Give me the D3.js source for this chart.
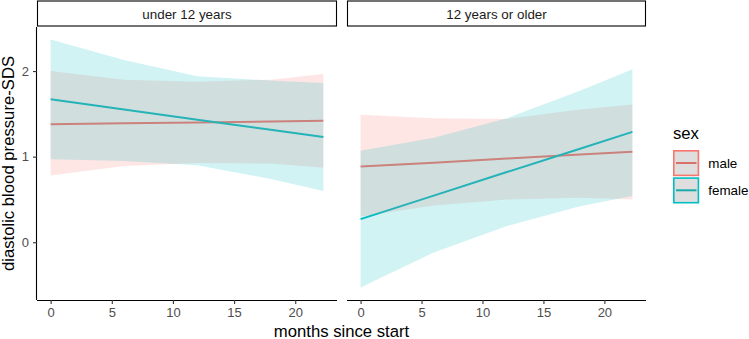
<!DOCTYPE html>
<html>
<head>
<meta charset="utf-8">
<script src="https://cdn.jsdelivr.net/npm/d3@7"></script>
<style>
  html, body { margin: 0; padding: 0; background: #fff; }
  svg { display: block; font-family: "Liberation Sans", Arial, Helvetica, sans-serif; }
</style>
</head>
<body>
<svg id="chart" width="749" height="339"></svg>
<script>
// ---- data ----
const groups = ["under 12 years", "12 years or older"];
const sexes = ["male", "female"];
const months = [0, 6, 12, 18, 22.3];

// fitted lines
const fitMaleYoung   = [1.38, 1.39, 1.40, 1.41, 1.42];
const fitFemaleYoung = [1.67, 1.55, 1.43, 1.315, 1.23];
const fitMaleOld     = [0.885, 0.93, 0.977, 1.024, 1.058];
const fitFemaleOld   = [0.27, 0.545, 0.82, 1.093, 1.29];

// confidence bands
const upMaleYoung   = [2.00, 1.90, 1.875, 1.90, 1.965];
const loMaleYoung   = [0.78, 0.89, 0.925, 0.92, 0.87];
const upFemaleYoung = [2.37, 2.13, 1.94, 1.89, 1.86];
const loFemaleYoung = [0.97, 0.95, 0.90, 0.74, 0.60];
const upMaleOld     = [1.49, 1.45, 1.44, 1.55, 1.61];
const loMaleOld     = [0.30, 0.43, 0.50, 0.52, 0.50];
const upFemaleOld   = [1.07, 1.22, 1.45, 1.77, 2.02];
const loFemaleOld   = [-0.53, -0.12, 0.19, 0.42, 0.54];

const xTicks = [0, 5, 10, 15, 20];
const yTicks = [0, 1, 2];
const colors = {male: "#F8766D", female: "#00BFC4"};

const series = {
  "under 12 years": {
    male:   {fit: fitMaleYoung,   up: upMaleYoung,   lo: loMaleYoung},
    female: {fit: fitFemaleYoung, up: upFemaleYoung, lo: loFemaleYoung}
  },
  "12 years or older": {
    male:   {fit: fitMaleOld,   up: upMaleOld,   lo: loMaleOld},
    female: {fit: fitFemaleOld, up: upFemaleOld, lo: loFemaleOld}
  }
};

// ---- layout ----
const svg = d3.select("#chart");
const panelTop = 27, panelBottom = 300;
const panels = [
  {name: groups[0], x0: 37, x1: 337},
  {name: groups[1], x0: 347, x1: 646}
];

// scales with 5% expansion
const xExt = d3.extent(months);
const xPad = (xExt[1] - xExt[0]) * 0.05;
const allY = [].concat(upMaleYoung, loMaleYoung, upFemaleYoung, loFemaleYoung,
                       upMaleOld, loMaleOld, upFemaleOld, loFemaleOld);
const yExt = d3.extent(allY);
const yPad = (yExt[1] - yExt[0]) * 0.05;
const y = d3.scaleLinear().domain([yExt[0] - yPad, yExt[1] + yPad]).range([panelBottom, panelTop]);

panels.forEach((p, pi) => {
  const x = d3.scaleLinear().domain([xExt[0] - xPad, xExt[1] + xPad]).range([p.x0, p.x1]);
  const g = svg.append("g");

  // lines (drawn under ribbons)
  sexes.forEach(s => {
    const d = series[p.name][s];
    const line = d3.line().x((m, i) => x(months[i])).y((m, i) => y(d.fit[i]));
    g.append("path").datum(months).attr("d", line)
      .attr("fill", "none").attr("stroke", colors[s]).attr("stroke-width", 2);
  });
  // ribbons
  sexes.forEach(s => {
    const d = series[p.name][s];
    const area = d3.area().x((m, i) => x(months[i]))
      .y0((m, i) => y(d.lo[i])).y1((m, i) => y(d.up[i]));
    g.append("path").datum(months).attr("d", area)
      .attr("fill", colors[s]).attr("fill-opacity", 0.18).attr("stroke", "none");
  });

  // strip
  svg.append("rect").attr("x", p.x0 + 0.5).attr("y", 1).attr("width", p.x1 - p.x0 - 1).attr("height", 25)
    .attr("fill", "#fff").attr("stroke", "#000").attr("stroke-width", 1.1);
  svg.append("text").attr("x", (p.x0 + p.x1) / 2).attr("y", 18.5)
    .attr("text-anchor", "middle").attr("font-size", 13.4).attr("fill", "#1A1A1A").text(p.name);

  // x axis
  const xa = svg.append("g").attr("transform", `translate(0,${panelBottom})`)
    .call(d3.axisBottom(x).tickValues(xTicks).tickSize(4).tickPadding(4));
  xa.select(".domain").attr("d", `M${p.x0},0.5H${p.x1}`).attr("stroke", "#000").attr("stroke-width", 1.1);
  xa.selectAll(".tick line").attr("stroke", "#333").attr("stroke-width", 1.1);
  xa.selectAll(".tick text").attr("font-size", 13).attr("fill", "#4D4D4D")
    .attr("font-family", "Liberation Sans, Arial, sans-serif");

  if (pi === 0) {
    const ya = svg.append("g").attr("transform", `translate(${p.x0},0)`)
      .call(d3.axisLeft(y).tickValues(yTicks).tickFormat(d3.format("d")).tickSize(4).tickPadding(4));
    ya.select(".domain").attr("d", `M-0.5,${panelTop}V${panelBottom}`).attr("stroke", "#000").attr("stroke-width", 1.1);
    ya.selectAll(".tick line").attr("stroke", "#333").attr("stroke-width", 1.1);
    ya.selectAll(".tick text").attr("font-size", 13).attr("fill", "#4D4D4D")
      .attr("font-family", "Liberation Sans, Arial, sans-serif");
  }
});

// axis titles
svg.append("text").attr("x", (panels[0].x0 + panels[1].x1) / 2).attr("y", 336.5)
  .attr("text-anchor", "middle").attr("font-size", 16.7).attr("fill", "#000").text("months since start");
svg.append("text").attr("transform", `translate(13.5,${(panelTop + panelBottom) / 2}) rotate(-90)`)
  .attr("text-anchor", "middle").attr("font-size", 16.7).attr("fill", "#000").text("diastolic blood pressure-SDS");

// legend
const lg = svg.append("g");
lg.append("text").attr("x", 673).attr("y", 139).attr("font-size", 16.7).attr("fill", "#000").text("sex");
const keyLine = {male: "#D9706A", female: "#1AA9AD"};
sexes.forEach((s, i) => {
  const ky = 150 + i * 27.3;
  lg.append("rect").attr("x", 673.8).attr("y", ky + 0.8).attr("width", 24.6).attr("height", 24.6)
    .attr("fill", "#DEDEDE").attr("stroke", colors[s]).attr("stroke-width", 1.6);
  lg.append("line").attr("x1", 676).attr("x2", 696.5).attr("y1", ky + 13).attr("y2", ky + 13)
    .attr("stroke", keyLine[s]).attr("stroke-width", 2);
  lg.append("text").attr("x", 708.3).attr("y", ky + 17.5).attr("font-size", 13.4).attr("fill", "#000").text(s);
});
</script>
</body>
</html>
